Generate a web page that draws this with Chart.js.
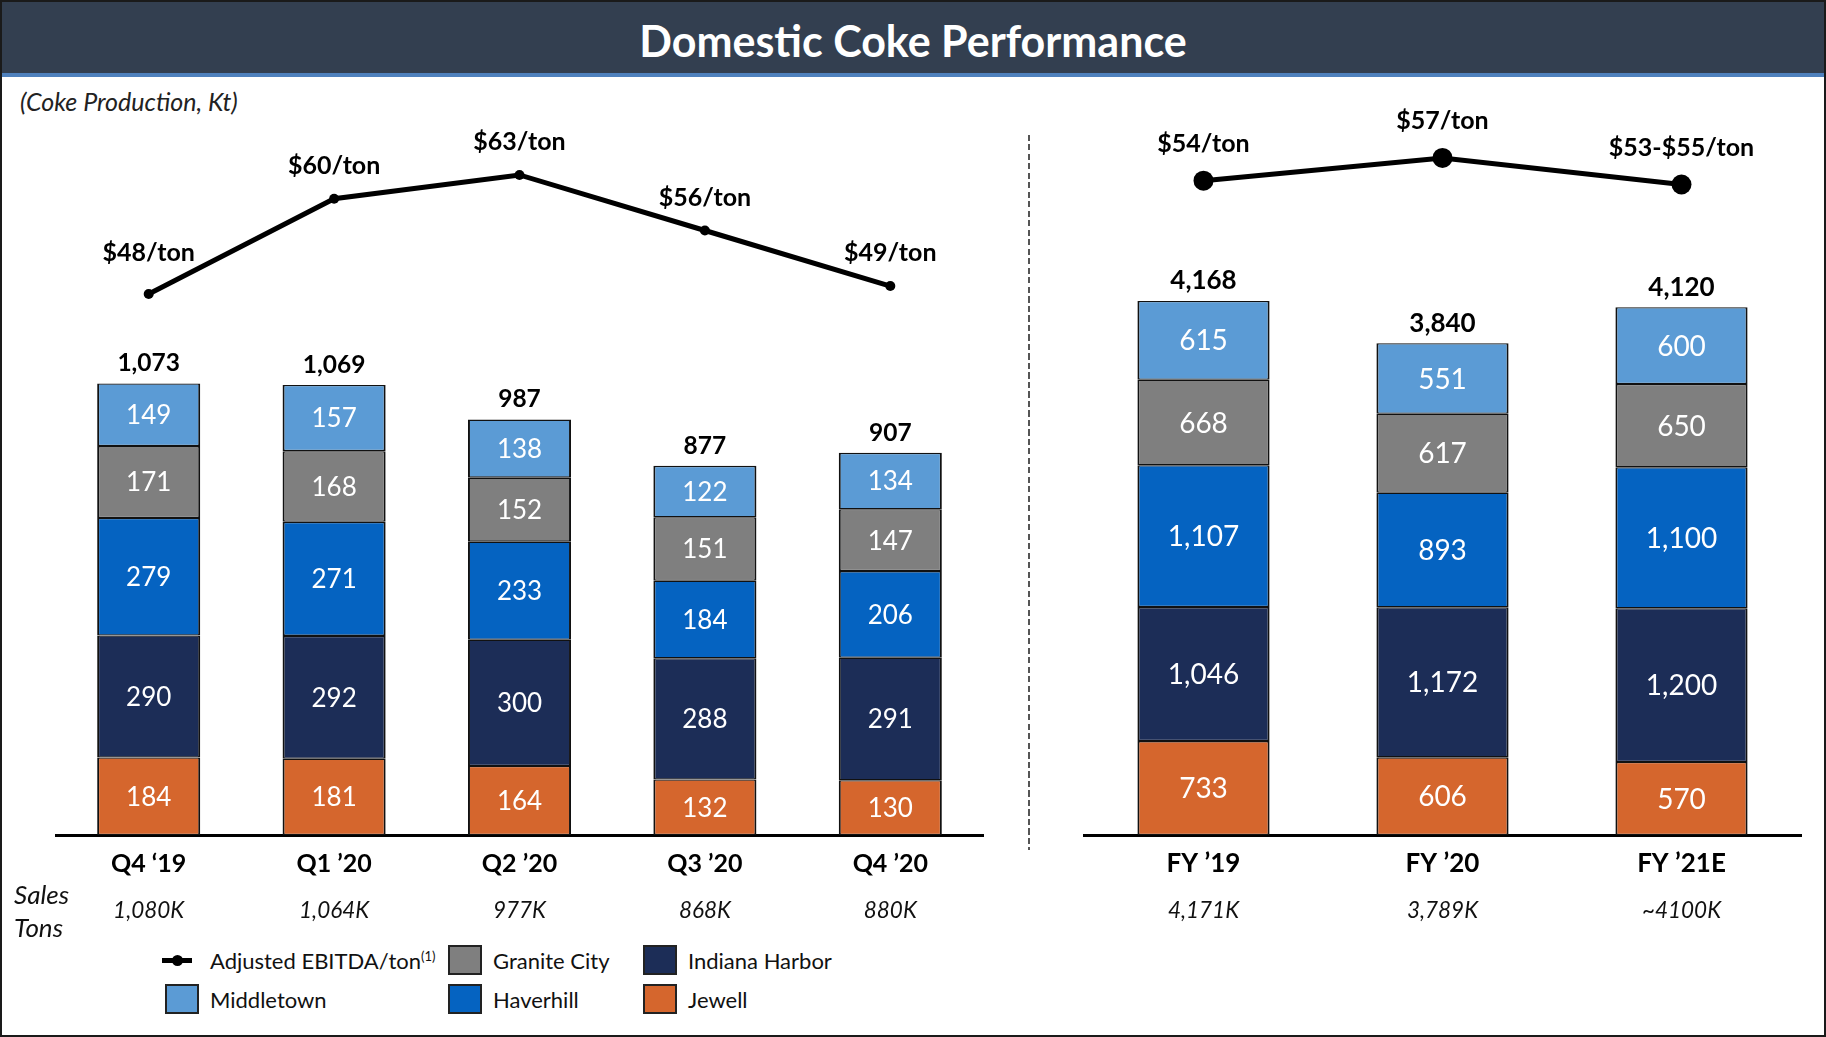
<!DOCTYPE html>
<html>
<head>
<meta charset="utf-8">
<title>Domestic Coke Performance</title>
<script src="https://cdn.jsdelivr.net/npm/chart.js@4.4.0/dist/chart.umd.min.js"></script>
<style>
  body { margin: 0; background: #fff; font-family: Lato, "Open Sans", sans-serif; }
  #page { position: relative; width: 1826px; height: 1037px; overflow: hidden; background: #fff; }
  #frame { position: absolute; left: 0; top: 0; right: 0; bottom: 0; border: 2px solid #1a1a1a; pointer-events: none; z-index: 5; }
  #titlebar { position: absolute; left: 0; top: 0; width: 100%; height: 73px; background: #333f50; border-bottom: 4px solid #4f81bd;
    color: #fff; font-weight: 700; font-size: 43px; text-align: center; line-height: 82px; }
  #subtitle { position: absolute; left: 20px; top: 86px; font-size: 25px; font-style: italic; color: #222; }
  #divider { position: absolute; left: 1028px; top: 135px; width: 2px; height: 715px;
    background: repeating-linear-gradient(to bottom, #555 0 6px, transparent 6px 9.5px); }
  canvas { position: absolute; top: 80px; }
  #leftChart { left: 0; }
  #rightChart { left: 1029px; }
  .sales { position: absolute; left: 14px; font-size: 26px; font-style: italic; color: #111; }
  .legend-item { position: absolute; font-size: 22px; color: #111; display: flex; align-items: center; height: 30px; }
  .swatch { width: 30px; height: 26px; border: 2px solid #222; box-sizing: content-box; margin-right: 11px; }
  .legend-line { position: relative; width: 30px; height: 5px; background: #000; margin: 0 18px 0 0; }
  .legend-line::after { content: ""; position: absolute; left: 10px; top: -3px; width: 11px; height: 11px; border-radius: 50%; background: #000; }
  sup { font-size: 13px; }
</style>
</head>
<body>
<div id="page">
  <div id="titlebar">Domestic Coke Performance</div>
  <div id="subtitle">(Coke Production, Kt)</div>
  <canvas id="leftChart" width="1029" height="860"></canvas>
  <canvas id="rightChart" width="797" height="860"></canvas>
  <div id="divider"></div>
  <div class="sales" style="top:878px">Sales</div>
  <div class="sales" style="top:911px">Tons</div>
  <div id="legend"></div>
  <div id="frame"></div>
</div>
<script>
// stack order, bottom to top
const seriesNames = ["Jewell", "Indiana Harbor", "Haverhill", "Granite City", "Middletown"];
const seriesColors = ["#d5662d", "#1c2d57", "#0563c1", "#7f7f7f", "#5b9bd5"];

const quarterLabels = ["Q4 \u201819", "Q1 \u201920", "Q2 \u201920", "Q3 \u201920", "Q4 \u201920"];
const quarterSales = ["1,080K", "1,064K", "977K", "868K", "880K"];
const quarterJewell = [184, 181, 164, 132, 130];
const quarterIndianaHarbor = [290, 292, 300, 288, 291];
const quarterHaverhill = [279, 271, 233, 184, 206];
const quarterGraniteCity = [171, 168, 152, 151, 147];
const quarterMiddletown = [149, 157, 138, 122, 134];
const quarterTotals = [1073, 1069, 987, 877, 907];
const quarterEbitda = [48, 60, 63, 56, 49];
const quarterEbitdaLabels = ["$48/ton", "$60/ton", "$63/ton", "$56/ton", "$49/ton"];

const yearLabels = ["FY \u201919", "FY \u201920", "FY \u201921E"];
const yearSales = ["4,171K", "3,789K", "~4100K"];
const yearJewell = [733, 606, 570];
const yearIndianaHarbor = [1046, 1172, 1200];
const yearHaverhill = [1107, 893, 1100];
const yearGraniteCity = [668, 617, 650];
const yearMiddletown = [615, 551, 600];
const yearTotals = [4168, 3840, 4120];
const yearEbitda = [54, 57, 53.5];
const yearEbitdaLabels = ["$54/ton", "$57/ton", "$53-$55/ton"];

const FONT = "Lato, 'Open Sans', sans-serif";
const fmt = v => v.toLocaleString("en-US");

// draws segment values, totals, line labels, category names and sales row
const labelPlugin = {
  id: "cokeLabels",
  afterDatasetsDraw(chart, args, o) {
    const ctx = chart.ctx;
    const area = chart.chartArea;
    ctx.save();
    ctx.textAlign = "center";
    ctx.textBaseline = "middle";
    let lastBarMeta = null;
    chart.data.datasets.forEach((ds, i) => {
      const meta = chart.getDatasetMeta(i);
      if (ds.type === "bar") {
        lastBarMeta = meta;
        ctx.fillStyle = "#fff";
        ctx.font = `400 ${o.segSize}px ${FONT}`;
        meta.data.forEach((el, j) => {
          ctx.fillText(fmt(ds.data[j]), el.x, (el.y + el.base) / 2 + 1);
        });
      } else {
        ctx.fillStyle = "#000";
        ctx.font = `700 ${o.lineSize}px ${FONT}`;
        meta.data.forEach((el, j) => {
          // first point sits where the line climbs away, so its label goes a bit higher
          const gap = j === 0 ? o.firstLineGap : o.lineGap;
          ctx.fillText(o.lineLabels[j], el.x, el.y - gap);
        });
      }
    });
    ctx.fillStyle = "#000";
    ctx.font = `700 ${o.totalSize}px ${FONT}`;
    lastBarMeta.data.forEach((el, j) => {
      ctx.fillText(fmt(o.totals[j]), el.x, el.y - o.totalGap);
    });
    const x = chart.scales.x;
    chart.data.labels.forEach((lab, j) => {
      const px = x.getPixelForValue(j);
      ctx.fillStyle = "#000";
      ctx.font = `700 ${o.catSize}px ${FONT}`;
      ctx.fillText(lab, px, area.bottom + 29);
      ctx.fillStyle = "#111";
      ctx.font = `italic 400 22.5px ${FONT}`;
      ctx.fillText(o.sales[j], px, area.bottom + 76);
    });
    ctx.restore();
  }
};

function buildChart(id, labels, stacks, ebitda, opts) {
  const datasets = stacks.map((values, k) => ({
    type: "bar",
    label: seriesNames[k],
    data: values,
    backgroundColor: seriesColors[k],
    borderColor: "#111",
    borderWidth: { top: 1.3, bottom: 1.3, left: 2, right: 2 },
    borderSkipped: false,
    barPercentage: opts.barPct,
    categoryPercentage: 1,
    yAxisID: "y",
    order: 2
  }));
  datasets.push({
    type: "line",
    label: "Adjusted EBITDA/ton",
    data: ebitda,
    borderColor: "#000",
    backgroundColor: "#000",
    borderWidth: 5,
    pointRadius: opts.pointRadius,
    pointBackgroundColor: "#000",
    pointBorderWidth: 0,
    tension: 0,
    yAxisID: "y2",
    order: 1
  });
  return new Chart(document.getElementById(id), {
    data: { labels: labels, datasets: datasets },
    options: {
      responsive: false,
      animation: false,
      layout: { padding: opts.padding },
      plugins: {
        legend: { display: false },
        tooltip: { enabled: false },
        cokeLabels: opts.labels
      },
      scales: {
        x: {
          stacked: true,
          offset: true,
          grid: { display: false, drawTicks: false },
          ticks: { display: false },
          border: { display: true, color: "#000", width: 3 }
        },
        y: { stacked: true, display: false, min: 0, max: opts.yMax },
        y2: { display: false, min: opts.y2Min, max: opts.y2Max }
      }
    },
    plugins: [labelPlugin]
  });
}

buildChart("leftChart", quarterLabels,
  [quarterJewell, quarterIndianaHarbor, quarterHaverhill, quarterGraniteCity, quarterMiddletown],
  quarterEbitda, {
    padding: { left: 56, right: 46, top: 50, bottom: 105 },
    barPct: 0.556,
    pointRadius: 5,
    yMax: 1675,
    y2Min: -20.2, y2Max: 68.67,
    labels: { segSize: 26, totalSize: 24.5, lineSize: 25, catSize: 25, lineGap: 33, firstLineGap: 41, totalGap: 20,
      totals: quarterTotals, lineLabels: quarterEbitdaLabels, sales: quarterSales }
  });

buildChart("rightChart", yearLabels,
  [yearJewell, yearIndianaHarbor, yearHaverhill, yearGraniteCity, yearMiddletown],
  yearEbitda, {
    padding: { left: 55, right: 25, top: 50, bottom: 105 },
    barPct: 0.553,
    pointRadius: 10,
    yMax: 5503,
    y2Min: -32.09, y2Max: 60.67,
    labels: { segSize: 28, totalSize: 26, lineSize: 25, catSize: 26, lineGap: 37, firstLineGap: 37, totalGap: 20,
      totals: yearTotals, lineLabels: yearEbitdaLabels, sales: yearSales }
  });

// legend, same layout as the slide: three columns, two rows
const legendRows = [
  ["Adjusted EBITDA/ton", "Granite City", "Indiana Harbor"],
  ["Middletown", "Haverhill", "Jewell"]
];
const legendCols = [165, 448, 643];
const legendTops = [945, 984];
const legendEl = document.getElementById("legend");
legendRows.forEach((row, r) => {
  row.forEach((name, c) => {
    const item = document.createElement("div");
    item.className = "legend-item";
    item.style.top = legendTops[r] + "px";
    if (name === "Adjusted EBITDA/ton") {
      item.style.left = (legendCols[c] - 3) + "px";
      item.innerHTML = '<span class="legend-line"></span><span>Adjusted EBITDA/ton<sup>(1)</sup></span>';
    } else {
      const k = seriesNames.indexOf(name);
      item.style.left = legendCols[c] + "px";
      item.innerHTML = `<span class="swatch" style="background:${seriesColors[k]}"></span><span>${name}</span>`;
    }
    legendEl.appendChild(item);
  });
});
</script>
</body>
</html>
